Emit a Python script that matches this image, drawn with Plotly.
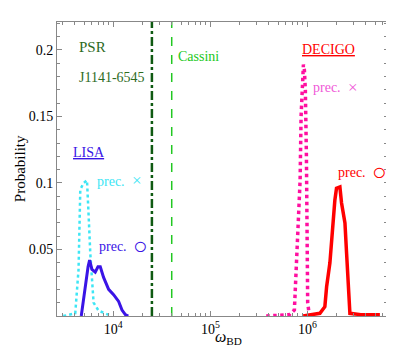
import plotly.graph_objects as go

# log10(omega_BD) and probability
lisa_x_logw = [3.485, 3.608, 3.642, 3.66, 3.694, 3.729, 3.745, 3.763, 3.797, 3.848, 3.948, 3.98]
lisa_x_prob = [0.0, 0.002, 0.035, 0.095, 0.100, 0.102, 0.077, 0.047, 0.010, 0.004, 0.001, 0.0]

lisa_o_logw = [3.67, 3.713, 3.74, 3.756, 3.78, 3.814, 3.842, 3.866, 3.90, 3.952, 4.003, 4.055, 4.09, 4.124, 4.155]
lisa_o_prob = [0.0, 0.025, 0.037, 0.042, 0.035, 0.033, 0.037, 0.037, 0.029, 0.020, 0.016, 0.011, 0.0045, 0.001, 0.0]

decigo_x_logw = [5.576, 5.712, 5.815, 5.866, 5.894, 5.907, 5.925, 5.935, 5.949, 5.959,
                 5.969, 5.979, 5.99, 5.995, 6.003, 6.021]
decigo_x_prob = [0.0, 0.0005, 0.001, 0.0045, 0.047, 0.08, 0.102, 0.15, 0.18, 0.189,
                 0.185, 0.17, 0.12, 0.06, 0.01, 0.0]

decigo_o_logw = [5.957, 6.129, 6.18, 6.198, 6.232, 6.249, 6.266, 6.283, 6.30, 6.335,
                 6.352, 6.387, 6.404, 6.42, 6.438, 6.55, 6.747]
decigo_o_prob = [0.0, 0.002, 0.007, 0.022, 0.040, 0.057, 0.072, 0.087, 0.096, 0.097,
                 0.085, 0.070, 0.047, 0.027, 0.002, 0.001, 0.001]

psr_bound = 25000
cassini_bound = 40000

major_ticks = [1e4, 1e5, 1e6]
major_text = ['10<sup>4</sup>', '10<sup>5</sup>', '10<sup>6</sup>']

SERIF = 'Liberation Serif'

specs = {
    'lisa_x': {'color': '#3ee6f5', 'dash': 'dot', 'width': 2.5},
    'lisa_o': {'color': '#3a14e6', 'dash': 'solid', 'width': 3},
    'decigo_x': {'color': '#ff0fa0', 'dash': 'dot', 'width': 3.5},
    'decigo_o': {'color': '#ff0000', 'dash': 'solid', 'width': 3.5},
}


def curve(logw, prob, spec):
    return go.Scatter(
        x=[10 ** v for v in logw],
        y=prob,
        mode='lines',
        line=spec,
        showlegend=False,
        hoverinfo='skip'
    )


fig = go.Figure()
fig.add_trace(curve(lisa_x_logw, lisa_x_prob, specs['lisa_x']))
fig.add_trace(curve(lisa_o_logw, lisa_o_prob, specs['lisa_o']))
fig.add_trace(curve(decigo_x_logw, decigo_x_prob, specs['decigo_x']))
fig.add_trace(curve(decigo_o_logw, decigo_o_prob, specs['decigo_o']))

# bounds from binary pulsar and Cassini
fig.add_trace(go.Scatter(x=[psr_bound, psr_bound], y=[0, 0.221], mode='lines',
                         line=dict(color='#0f5a12', width=2.5, dash='dashdot'),
                         showlegend=False, hoverinfo='skip'))
fig.add_trace(go.Scatter(x=[cassini_bound, cassini_bound], y=[0, 0.221], mode='lines',
                         line=dict(color='#22c822', width=1.5, dash='dash'),
                         showlegend=False, hoverinfo='skip'))

# invisible trace to carry the right-hand tick marks
fig.add_trace(go.Scatter(x=[1e4], y=[0], yaxis='y2', mode='markers',
                         marker=dict(opacity=0), showlegend=False, hoverinfo='skip'))

# (x in log10, y, text, colour, size)
labels = [
    (3.629, 0.2023, 'PSR', '#2e6b1e', 15),
    (3.629, 0.179, 'J1141-6545', '#2e6b1e', 14),
    (4.65, 0.195, 'Cassini', '#22c822', 14),
    (3.567, 0.1226, '<u>LISA</u>', '#3a14e6', 14),
    (3.81, 0.1008, 'prec.', '#3ee6f5', 14),
    (4.17, 0.1015, '×', '#3ee6f5', 17),
    (3.83, 0.052, 'prec.', '#3a14e6', 14),
    (4.18, 0.0525, '○', '#3a14e6', 24),
    (5.928, 0.2, '<u>DECIGO</u>', '#ff0000', 14),
    (6.04, 0.1714, 'prec.', '#f058d8', 14),
    (6.40, 0.172, '×', '#f058d8', 17),
    (6.29, 0.108, 'prec.', '#ff0000', 14),
    (6.64, 0.1085, '○', '#ff0000', 24),
]
for x, y, text, color, size in labels:
    fig.add_annotation(x=x, y=y, xref='x', yref='y', text=text, showarrow=False,
                       xanchor='left', yanchor='middle',
                       font=dict(family=SERIF, size=size, color=color))

# axis titles placed by hand
fig.add_annotation(x=0.52, y=-0.074, xref='paper', yref='paper', showarrow=False,
                   text='<i>ω</i><sub>BD</sub>', xanchor='center', yanchor='middle',
                   font=dict(family=SERIF, size=16, color='black'))
fig.add_annotation(x=-0.112, y=0.5, xref='paper', yref='paper', showarrow=False,
                   text='Probability', textangle=-90, xanchor='center', yanchor='middle',
                   font=dict(family=SERIF, size=15, color='black'))

minor_ticks = [k * 10 ** n for n in range(3, 7) for k in range(2, 10)]

# the page body has an 8px margin, so the figure is sized and offset to fit the window
fig.update_layout(
    width=393, height=340,
    margin=dict(l=49, r=15, t=14, b=32),
    paper_bgcolor='white', plot_bgcolor='white',
    font=dict(family=SERIF, size=13, color='black'),
    xaxis=dict(
        type='log', range=[3.42, 6.81], automargin=False,
        tickvals=major_ticks, ticktext=major_text,
        ticks='inside', ticklen=5, tickcolor='#888',
        showline=True, linecolor='#888', linewidth=1, mirror='ticks',
        showgrid=False, zeroline=False,
        minor=dict(tickvals=minor_ticks, ticks='inside', ticklen=3, tickcolor='#888', showgrid=False),
        tickfont=dict(family=SERIF, size=14),
    ),
    yaxis=dict(
        range=[0, 0.221], automargin=False,
        tickvals=[0.05, 0.1, 0.15, 0.2], ticktext=['0.05', '0.1', '0.15', '0.2'],
        ticks='inside', ticklen=5, tickcolor='#888',
        showline=True, linecolor='#888', linewidth=1,
        showgrid=False, zeroline=False,
        minor=dict(dtick=0.01, ticks='inside', ticklen=3, tickcolor='#888', showgrid=False),
        tickfont=dict(family=SERIF, size=14),
    ),
    yaxis2=dict(
        overlaying='y', side='right', range=[0, 0.221], automargin=False,
        dtick=0.01, ticks='inside', ticklen=2, tickcolor='#888',
        showticklabels=False, showline=False, showgrid=False, zeroline=False,
    ),
)

fig.write_html('out.html')
